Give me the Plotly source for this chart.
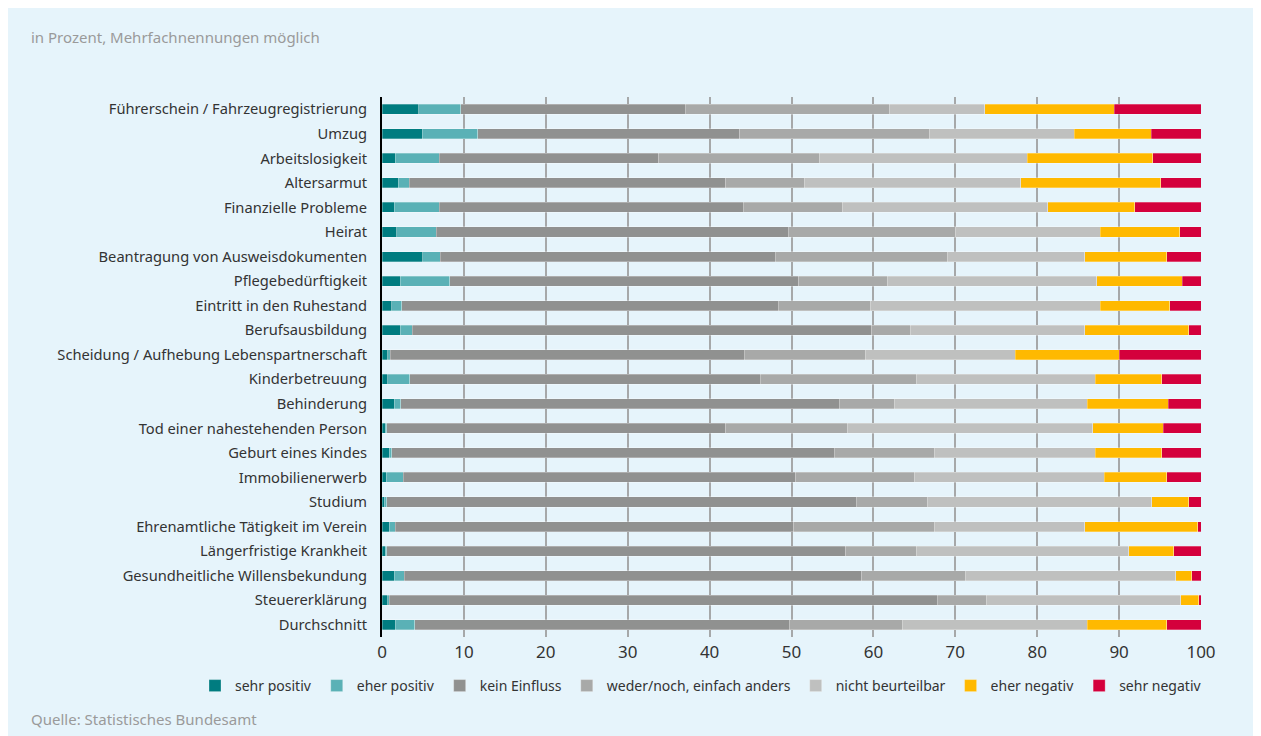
import plotly.graph_objects as go

categories = [
    "Führerschein / Fahrzeugregistrierung",
    "Umzug",
    "Arbeitslosigkeit",
    "Altersarmut",
    "Finanzielle Probleme",
    "Heirat",
    "Beantragung von Ausweisdokumenten",
    "Pflegebedürftigkeit",
    "Eintritt in den Ruhestand",
    "Berufsausbildung",
    "Scheidung / Aufhebung Lebenspartnerschaft",
    "Kinderbetreuung",
    "Behinderung",
    "Tod einer nahestehenden Person",
    "Geburt eines Kindes",
    "Immobilienerwerb",
    "Studium",
    "Ehrenamtliche Tätigkeit im Verein",
    "Längerfristige Krankheit",
    "Gesundheitliche Willensbekundung",
    "Steuererklärung",
    "Durchschnitt",
]

sehr_positiv = [4.5, 4.9, 1.6, 2.0, 1.5, 1.8, 5.0, 2.2, 1.2, 2.2, 0.7, 0.7, 1.5, 0.4, 0.9, 0.5, 0.3, 0.9, 0.4, 1.5, 0.7, 1.6]
eher_positiv = [5.1, 6.8, 5.4, 1.3, 5.5, 4.8, 2.1, 6.1, 1.2, 1.5, 0.3, 2.7, 0.8, 0.2, 0.3, 2.1, 0.3, 0.7, 0.2, 1.2, 0.2, 2.4]
kein_einfluss = [27.4, 32.0, 26.8, 38.7, 37.1, 43.0, 40.9, 42.6, 46.0, 56.1, 43.2, 42.8, 53.5, 41.4, 54.0, 47.9, 57.3, 48.7, 56.0, 55.9, 66.9, 45.7]
weder_noch = [25.0, 23.1, 19.6, 9.6, 12.1, 20.4, 21.1, 10.8, 11.2, 4.7, 14.8, 19.1, 6.8, 14.8, 12.3, 14.5, 8.7, 17.1, 8.7, 12.6, 6.0, 13.9]
nicht_beurteilbar = [11.6, 17.7, 25.4, 26.4, 25.1, 17.7, 16.7, 25.6, 28.1, 21.3, 18.3, 21.8, 23.5, 30.0, 19.6, 23.2, 27.4, 18.4, 25.9, 25.7, 23.7, 22.5]
eher_negativ = [15.8, 9.4, 15.3, 17.1, 10.6, 9.7, 10.0, 10.4, 8.5, 12.7, 12.7, 8.1, 9.9, 8.6, 8.1, 7.6, 4.5, 13.8, 5.5, 2.0, 2.2, 9.7]
sehr_negativ = [10.6, 6.1, 5.9, 4.9, 8.1, 2.6, 4.2, 2.3, 3.8, 1.5, 10.0, 4.8, 4.0, 4.6, 4.8, 4.2, 1.5, 0.4, 3.3, 1.1, 0.3, 4.2]

series_names = ["sehr positiv", "eher positiv", "kein Einfluss", "weder/noch, einfach anders",
                "nicht beurteilbar", "eher negativ", "sehr negativ"]
series_values = [sehr_positiv, eher_positiv, kein_einfluss, weder_noch,
                 nicht_beurteilbar, eher_negativ, sehr_negativ]
series_colors = ["#007C80", "#5AB1B6", "#909190", "#A8A9A8", "#BFC0BF", "#FFB900", "#D4003C"]

x_ticks = [0, 10, 20, 30, 40, 50, 60, 70, 80, 90, 100]

# figure sits at page offset (8, 8) because of the default body margin
W, H = 1253, 728
L, R, T, B = 374, 60, 89, 99
PW = W - L - R
PH = H - T - B

def px_x(p):
    return (p - L) / PW

def px_y(p):
    return 1 - (p - T) / PH

fig = go.Figure()
for name, vals, col in zip(series_names, series_values, series_colors):
    fig.add_trace(go.Bar(
        y=categories, x=vals, name=name, orientation="h",
        marker=dict(color=col, line=dict(color="rgba(255,255,255,0.45)", width=0.6)),
        hovertemplate="%{y}<br>" + name + ": %{x}<extra></extra>",
    ))

BG = "#E6F4FB"
fig.update_layout(
    width=W, height=H,
    barmode="stack", bargap=0.59,
    paper_bgcolor=BG, plot_bgcolor=BG,
    margin=dict(l=L, r=R, t=T, b=B, pad=0),
    font=dict(family="Noto Sans, sans-serif", color="#333333", size=14),
    showlegend=True,
    legend=dict(orientation="h", x=px_x(187), xanchor="left", y=px_y(678), yanchor="middle",
                bgcolor="rgba(0,0,0,0)", font=dict(size=14, color="#333333"),
                traceorder="normal", itemclick=False, itemdoubleclick=False, tracegroupgap=0),
    annotations=[
        dict(text="in Prozent, Mehrfachnennungen möglich", xref="paper", yref="paper",
             x=px_x(21), y=px_y(29), xanchor="left", yanchor="middle", showarrow=False,
             font=dict(size=15, color="#9a9a9a")),
        dict(text="Quelle: Statistisches Bundesamt", xref="paper", yref="paper",
             x=px_x(21), y=px_y(711), xanchor="left", yanchor="middle", showarrow=False,
             font=dict(size=15, color="#9a9a9a")),
    ],
)
fig.update_xaxes(range=[0, 100], tickvals=x_ticks, ticktext=[str(v) for v in x_ticks],
                 showgrid=True, gridcolor="#A6A8A9", gridwidth=1.5, zeroline=False,
                 showline=False, ticks="", ticklabelstandoff=3,
                 tickfont=dict(size=17, color="#333333"), fixedrange=True)
fig.update_yaxes(categoryorder="array", categoryarray=categories, autorange="reversed",
                 showline=True, linecolor="black", linewidth=2, ticks="", ticklabelstandoff=10,
                 showgrid=False, tickfont=dict(size=14.7, color="#333333"), fixedrange=True)

fig.write_html("out.html")
